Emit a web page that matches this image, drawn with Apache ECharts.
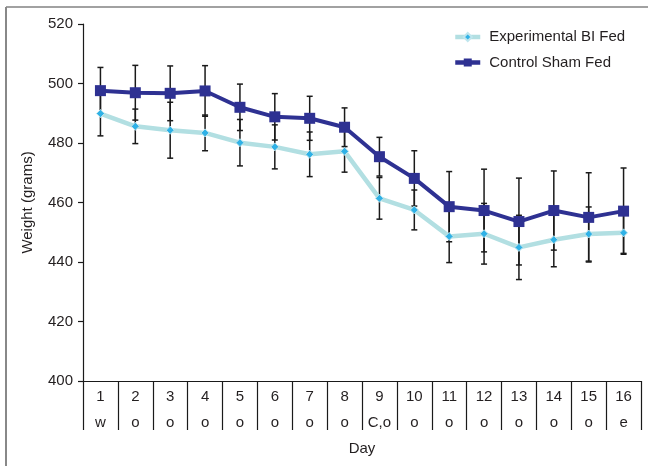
<!DOCTYPE html>
<html>
<head>
<meta charset="utf-8">
<script src="https://cdn.jsdelivr.net/npm/echarts@6/dist/echarts.min.js"></script>
<style>
  html, body { margin: 0; padding: 0; background: #fff; }
  #chart { width: 648px; height: 466px; }
</style>
</head>
<body>
<div id="chart"></div>
<script>
// Day number and condition code for each measurement day
const days = ['1','2','3','4','5','6','7','8','9','10','11','12','13','14','15','16'];
const codes = ['w','o','o','o','o','o','o','o','C,o','o','o','o','o','o','o','e'];

// Mean body weight (grams) and standard deviation per day
const expMean = [489.9, 485.6, 484.3, 483.4, 480.1, 478.7, 476.2, 477.2, 461.4, 457.5, 448.6, 449.5, 444.9, 447.5, 449.4, 449.8];
const expSd   = [7.5, 5.8, 9.4, 6.0, 7.8, 7.4, 7.5, 7.0, 7.0, 6.7, 8.8, 10.2, 10.8, 9.1, 9.1, 6.9];
const ctlMean = [497.6, 496.9, 496.7, 497.5, 492.0, 488.8, 488.3, 485.3, 475.4, 468.1, 458.6, 457.3, 453.6, 457.3, 455.0, 457.1];
const ctlSd   = [7.8, 9.2, 9.2, 8.5, 7.8, 7.8, 7.4, 6.5, 6.5, 9.3, 11.8, 13.9, 14.6, 13.3, 15.0, 14.5];

const yTicks = [400, 420, 440, 460, 480, 500, 520];

const categories = days.map((d, i) => d + '\n' + codes[i]);
const font = '"Liberation Sans", Arial, Helvetica, sans-serif';
const textColor = '#231f20';

const expLine = '#b2dfe2';
const expMarker = '#2fb1e6';
const ctlColor = '#2e3192';

function errorData(mean, sd) {
  return mean.map((m, i) => [i, m - sd[i], m + sd[i]]);
}

function renderError(params, api) {
  const x = api.value(0);
  const lo = api.coord([x, api.value(1)]);
  const hi = api.coord([x, api.value(2)]);
  const cap = 3;
  const style = { stroke: '#1a1a1a', lineWidth: 1.5, fill: null };
  return {
    type: 'group',
    children: [
      { type: 'line', shape: { x1: hi[0], y1: hi[1], x2: lo[0], y2: lo[1] }, style },
      { type: 'line', shape: { x1: hi[0] - cap, y1: hi[1], x2: hi[0] + cap, y2: hi[1] }, style },
      { type: 'line', shape: { x1: lo[0] - cap, y1: lo[1], x2: lo[0] + cap, y2: lo[1] }, style }
    ]
  };
}

const chart = echarts.init(document.getElementById('chart'), null, { renderer: 'canvas' });

chart.setOption({
  backgroundColor: '#fff',
  animation: false,
  textStyle: { fontFamily: font, color: textColor },
  graphic: [
    { type: 'line', shape: { x1: 6, y1: 7, x2: 648, y2: 7 }, style: { stroke: '#444', lineWidth: 1.2 }, silent: true },
    { type: 'line', shape: { x1: 6, y1: 7, x2: 6, y2: 466 }, style: { stroke: '#888', lineWidth: 2 }, silent: true }
  ],
  grid: { left: 83, right: 7, top: 24, bottom: 85, containLabel: false },
  legend: {
    orient: 'vertical',
    left: 448,
    top: 24,
    itemWidth: 25,
    itemHeight: 10,
    itemGap: 9.5,
    data: [
      { name: 'Experimental BI Fed', lineStyle: { width: 4.5, color: expLine }, itemStyle: { color: expMarker } },
      { name: 'Control Sham Fed', lineStyle: { width: 4.5, color: ctlColor }, itemStyle: { color: ctlColor } }
    ],
    textStyle: { fontFamily: font, fontSize: 15, color: textColor, lineHeight: 16, padding: [0, 0, 0, 4] }
  },
  xAxis: {
    type: 'category',
    data: categories,
    boundaryGap: true,
    name: 'Day',
    nameLocation: 'middle',
    nameGap: 59,
    nameTextStyle: { fontFamily: font, fontSize: 15, color: textColor },
    axisLine: { lineStyle: { color: '#1a1a1a', width: 1.2 } },
    axisTick: { show: true, length: 49, alignWithLabel: false, lineStyle: { color: '#1a1a1a', width: 1.2 } },
    axisLabel: { fontFamily: font, fontSize: 15, color: textColor, lineHeight: 26, margin: 3, interval: 0 },
    splitLine: { show: false }
  },
  yAxis: {
    type: 'value',
    min: yTicks[0],
    max: yTicks[yTicks.length - 1],
    interval: 20,
    name: 'Weight (grams)',
    nameLocation: 'middle',
    nameGap: 48,
    nameTextStyle: { fontFamily: font, fontSize: 15, color: textColor },
    axisLine: { show: true, lineStyle: { color: '#1a1a1a', width: 1.2 } },
    axisTick: { show: true, length: 5, lineStyle: { color: '#1a1a1a', width: 1.2 } },
    axisLabel: { fontFamily: font, fontSize: 15, color: textColor, margin: 10 },
    splitLine: { show: false }
  },
  series: [
    {
      name: 'Control Sham Fed error',
      type: 'custom',
      renderItem: renderError,
      data: errorData(ctlMean, ctlSd),
      encode: { x: 0, y: [1, 2] },
      z: 1,
      silent: true
    },
    {
      name: 'Experimental BI Fed error',
      type: 'custom',
      renderItem: renderError,
      data: errorData(expMean, expSd),
      encode: { x: 0, y: [1, 2] },
      z: 1,
      silent: true
    },
    {
      name: 'Experimental BI Fed',
      type: 'line',
      data: expMean,
      z: 3,
      symbol: 'diamond',
      symbolSize: 8,
      lineStyle: { color: expLine, width: 4.5 },
      itemStyle: { color: expMarker, borderColor: '#bfe6ee', borderWidth: 1 }
    },
    {
      name: 'Control Sham Fed',
      type: 'line',
      data: ctlMean,
      z: 4,
      symbol: 'rect',
      symbolSize: 11,
      lineStyle: { color: ctlColor, width: 4 },
      itemStyle: { color: ctlColor, borderColor: ctlColor, borderWidth: 0 }
    }
  ]
});
</script>
</body>
</html>
